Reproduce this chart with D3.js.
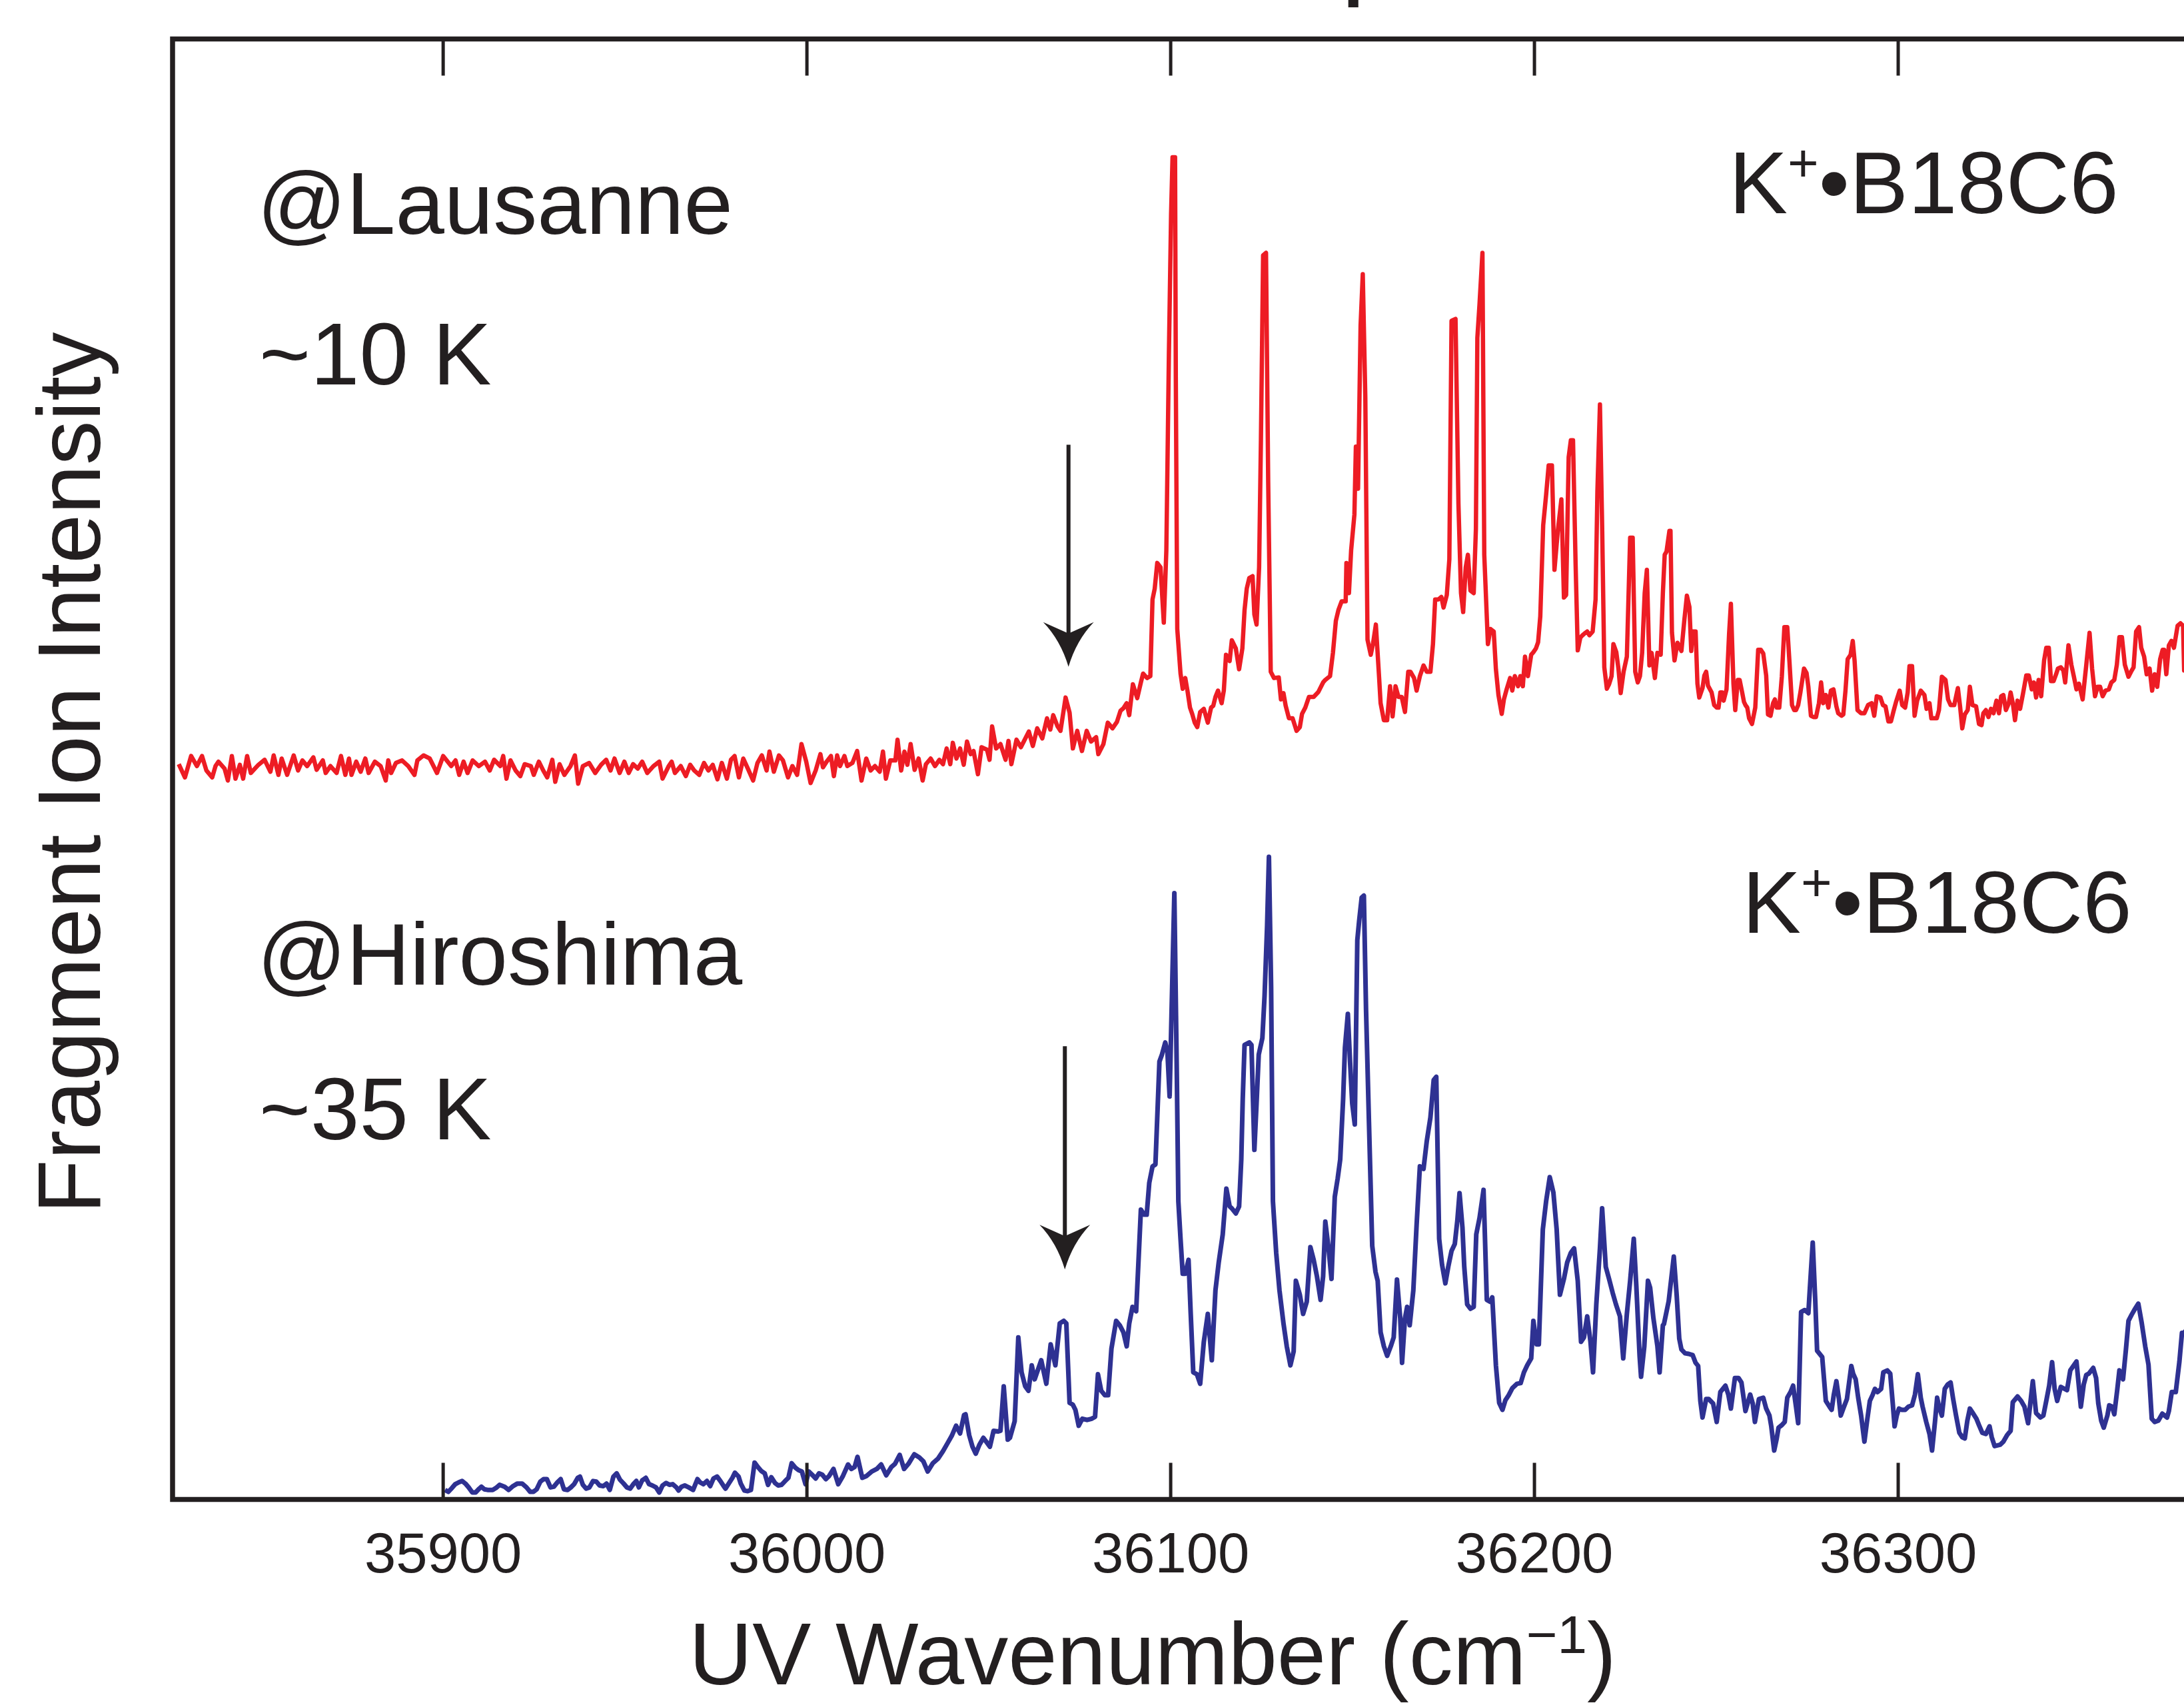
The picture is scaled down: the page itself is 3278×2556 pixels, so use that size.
<!DOCTYPE html>
<html>
<head>
<meta charset="utf-8">
<script src="https://cdnjs.cloudflare.com/ajax/libs/d3/7.8.5/d3.min.js"></script>
<style>
  body { margin: 0; background: #fff; }
  svg { display: block; }
  text { font-family: "Liberation Sans", Arial, Helvetica, sans-serif; fill: #231f20; }
</style>
</head>
<body>
<div class="canvas"></div>
<script>
// tick positions on the wavenumber axis
const xTicks = [35900, 36000, 36100, 36200, 36300];

// K+.B18C6 @Lausanne (~10 K), [wavenumber cm-1, relative intensity]
const lausanne = [
  [35827.4,3.5],[35829.1,1.4],[35830.8,4.8],[35832.4,3.2],[35833.8,4.8],[35835.0,2.5],[35836.6,1.4],[35837.5,3.2],
  [35838.3,3.9],[35840.0,2.8],[35840.9,0.9],[35842.0,4.8],[35843.0,1.2],[35844.2,3.4],[35845.1,1.2],[35846.2,4.8],
  [35847.2,2.1],[35849.3,3.4],[35851.0,4.2],[35852.6,2.3],[35853.5,4.9],[35854.8,1.8],[35855.7,4.4],[35857.2,1.8],
  [35859.0,4.9],[35860.2,2.5],[35861.4,4.1],[35862.7,3.2],[35864.4,4.6],[35865.3,2.6],[35867.0,4.1],[35867.8,2.1],
  [35869.1,3.2],[35870.8,2.1],[35872.0,4.8],[35873.2,1.8],[35874.2,4.4],[35874.9,1.8],[35876.2,3.9],[35877.4,2.3],
  [35878.7,4.4],[35879.6,2.1],[35881.3,3.9],[35882.9,3.2],[35884.3,0.9],[35885.0,4.1],[35885.8,2.1],[35887.1,3.7],
  [35888.8,4.1],[35890.5,3.2],[35892.2,1.8],[35893.0,4.1],[35894.7,4.9],[35896.4,4.4],[35898.4,2.1],[35900.1,4.8],
  [35902.3,3.2],[35903.5,4.1],[35904.5,1.8],[35905.7,3.9],[35906.8,2.1],[35908.2,4.1],[35909.9,3.2],[35911.6,3.9],
  [35912.9,2.5],[35914.1,4.2],[35915.8,3.2],[35916.6,4.8],[35917.5,1.2],[35918.6,4.1],[35920.0,2.5],[35921.3,1.6],
  [35922.5,3.5],[35924.2,3.2],[35925.0,1.8],[35926.4,3.9],[35927.6,2.5],[35928.7,1.4],[35930.1,4.2],[35930.9,0.7],
  [35932.1,3.5],[35933.4,1.8],[35935.1,3.2],[35936.3,4.9],[35937.2,0.4],[35938.5,3.2],[35940.2,3.7],[35941.9,2.1],
  [35943.5,3.4],[35944.9,4.2],[35946.1,2.5],[35947.2,4.4],[35948.6,2.1],[35949.9,3.9],[35951.1,2.1],[35952.3,3.5],
  [35953.6,2.8],[35954.8,3.9],[35956.2,2.1],[35957.9,3.2],[35959.5,3.9],[35960.4,1.2],[35962.1,3.2],[35962.9,3.9],
  [35963.8,2.1],[35965.4,3.2],[35966.8,1.6],[35968.0,3.4],[35969.1,2.5],[35970.5,1.8],[35971.8,3.7],[35973.0,2.5],
  [35974.2,3.4],[35975.5,1.1],[35976.7,3.7],[35978.1,1.2],[35979.2,4.2],[35980.2,4.8],[35981.4,1.4],[35982.6,4.4],
  [35984.0,2.6],[35985.3,0.9],[35986.5,3.7],[35987.7,4.9],[35989.0,2.5],[35989.8,5.5],[35991.0,2.3],[35992.4,4.9],
  [35993.5,4.1],[35994.9,1.4],[35996.1,3.2],[35997.4,1.8],[35998.6,6.7],[35999.9,3.9],[36001.1,0.5],[36002.5,2.5],
  [36003.8,5.1],[36004.5,3.0],[36005.5,3.9],[36006.7,4.8],[36007.5,1.6],[36008.4,4.9],[36009.2,3.2],[36010.4,4.8],
  [36011.2,3.2],[36012.6,3.7],[36013.9,5.6],[36015.1,0.9],[36016.4,4.4],[36017.6,2.5],[36018.8,3.2],[36020.1,2.3],
  [36021.0,5.5],[36021.8,1.2],[36023.0,4.1],[36024.4,4.1],[36025.0,7.4],[36026.0,2.5],[36026.9,5.5],[36027.7,3.4],
  [36028.6,6.7],[36029.7,2.6],[36030.8,4.4],[36031.9,0.9],[36032.8,3.5],[36034.1,4.4],[36035.3,3.2],[36036.5,4.2],
  [36037.5,3.5],[36038.5,6.0],[36039.5,3.5],[36040.2,6.9],[36041.2,4.4],[36042.2,6.0],[36043.2,3.4],[36044.1,7.1],
  [36045.1,5.1],[36045.9,5.6],[36047.1,1.9],[36048.1,6.2],[36049.6,5.8],[36050.3,4.2],[36051.0,9.5],[36052.1,6.0],
  [36053.3,6.7],[36054.7,4.2],[36055.5,7.2],[36056.3,3.5],[36057.7,7.4],[36058.9,6.2],[36059.7,7.1],[36061.1,8.7],
  [36062.2,6.4],[36063.4,9.2],[36064.8,7.6],[36066.1,10.8],[36067.0,9.0],[36067.8,11.3],[36069.0,9.5],[36069.8,8.8],
  [36071.2,14.1],[36072.3,11.7],[36073.2,6.0],[36074.4,8.8],[36075.7,5.6],[36077.0,8.8],[36078.2,7.1],[36079.6,7.8],
  [36080.2,5.1],[36081.6,6.7],[36082.8,10.1],[36084.1,9.2],[36085.3,10.2],[36086.3,12.0],[36087.1,12.4],[36088.0,13.2],
  [36088.7,11.3],[36089.7,16.2],[36090.9,14.0],[36091.9,16.5],[36092.5,17.9],[36093.6,17.2],[36094.5,17.5],[36095.1,29.7],
  [36095.7,31.4],[36096.4,35.5],[36097.3,34.8],[36098.2,26.0],[36098.9,37.5],[36099.6,68.6],[36100.2,90.9],[36100.6,100],
  [36101.3,100],[36101.5,65.2],[36101.9,25.0],[36102.8,17.9],[36103.4,15.5],[36104.1,17.2],[36104.7,15.2],[36105.4,12.5],
  [36106.0,11.5],[36106.7,10.1],[36107.4,9.4],[36108.2,11.8],[36109.2,12.3],[36110.3,10.1],[36111.2,12.5],[36111.8,12.8],
  [36112.4,14.2],[36113.1,15.2],[36114.1,13.2],[36114.7,15.2],[36115.3,20.9],[36116.3,19.9],[36116.9,23.2],[36118.0,21.9],
  [36118.9,18.6],[36119.8,21.9],[36120.4,28.0],[36121.0,31.4],[36121.7,33.1],[36122.6,33.4],[36123.1,27.3],[36123.7,25.7],
  [36124.4,34.8],[36124.9,55.0],[36125.5,84.4],[36126.3,84.8],[36126.9,48.3],[36127.6,18.2],[36128.5,17.2],[36129.8,17.3],
  [36130.4,13.8],[36131.1,14.8],[36131.7,12.8],[36132.6,10.8],[36133.6,10.8],[36134.7,8.8],[36135.6,9.4],[36136.2,11.5],
  [36137.1,12.5],[36138.1,14.2],[36139.4,14.2],[36140.7,15.0],[36142.0,16.5],[36142.6,16.9],[36143.9,17.5],[36144.7,21.2],
  [36145.5,26.3],[36146.2,28.0],[36147.1,29.4],[36148.2,29.4],[36148.4,35.5],[36149.1,30.7],[36149.7,37.5],[36150.6,43.2],
  [36151.0,54.0],[36151.6,47.3],[36152.3,73.3],[36152.9,81.4],[36153.6,61.8],[36154.2,23.3],[36155.1,20.9],[36155.7,22.6],
  [36156.5,25.7],[36157.4,17.2],[36157.8,13.2],[36158.7,10.5],[36159.6,10.5],[36160.4,15.9],[36161.1,11.1],[36161.9,15.9],
  [36162.7,14.2],[36163.6,14.2],[36164.5,11.8],[36165.4,18.2],[36166.0,18.2],[36167.0,17.2],[36167.7,15.2],[36168.6,17.5],
  [36169.6,19.2],[36170.5,18.2],[36171.5,18.2],[36172.2,22.6],[36172.8,29.7],[36173.7,29.7],[36174.5,30.1],[36175.1,28.4],
  [36176.0,30.4],[36176.7,36.1],[36177.3,74.0],[36178.4,74.3],[36179.2,44.9],[36179.9,30.7],[36180.5,27.7],[36181.2,34.8],
  [36181.8,36.8],[36182.5,31.1],[36183.4,30.7],[36184.0,40.9],[36184.4,71.3],[36185.0,76.7],[36185.8,84.8],[36186.3,36.8],
  [36187.3,22.6],[36188.0,25.0],[36188.9,24.6],[36189.5,18.6],[36190.2,14.5],[36191.1,11.5],[36191.7,13.8],[36192.5,15.5],
  [36193.4,17.2],[36194.0,15.2],[36194.7,17.5],[36195.6,15.9],[36196.2,17.5],[36196.9,15.9],[36197.5,20.6],[36198.3,17.5],
  [36199.2,20.9],[36199.8,21.3],[36200.5,21.9],[36201.1,22.9],[36201.7,27.0],[36202.5,41.5],[36203.3,46.3],[36204.0,51.0],
  [36204.9,51.0],[36205.6,34.4],[36206.5,40.5],[36207.5,45.6],[36208.2,30.0],[36208.8,30.4],[36209.5,52.3],[36210.1,55.0],
  [36210.7,55.0],[36211.4,35.5],[36212.0,21.6],[36212.7,23.6],[36213.3,24.0],[36213.9,24.3],[36214.6,24.6],[36215.2,24.0],
  [36216.1,24.6],[36216.9,29.7],[36217.4,46.9],[36218.1,60.7],[36218.7,41.5],[36219.3,18.9],[36220.0,15.5],[36220.6,16.2],
  [36221.3,17.5],[36221.8,22.6],[36222.6,21.3],[36223.2,18.6],[36223.8,14.8],[36224.6,18.2],[36225.5,20.6],[36226.4,39.5],
  [36227.1,39.5],[36227.8,18.2],[36228.5,16.5],[36229.1,17.5],[36229.7,21.2],[36230.4,30.7],[36231.0,34.4],[36231.7,19.2],
  [36232.3,21.2],[36233.2,17.2],[36233.9,21.2],[36234.8,20.9],[36235.4,30.7],[36235.9,36.8],[36236.4,37.3],[36237.2,40.6],
  [36237.5,40.6],[36237.9,24.4],[36238.6,20.0],[36239.4,22.8],[36240.5,21.5],[36241.3,26.4],[36242.0,30.3],[36242.7,28.5],
  [36243.2,21.5],[36243.6,24.6],[36244.4,24.6],[36244.9,16.3],[36245.4,14.1],[36246.3,15.6],[36246.8,17.6],[36247.3,18.2],
  [36247.8,16.0],[36248.8,14.9],[36249.5,12.9],[36250.2,12.5],[36250.7,12.5],[36251.2,14.9],[36251.7,14.9],[36252.1,13.6],
  [36252.9,15.4],[36253.6,24.2],[36254.1,29.0],[36254.8,16.3],[36255.3,12.1],[36256.0,16.9],[36256.5,16.9],[36257.2,14.9],
  [36257.7,13.4],[36258.1,12.9],[36258.6,12.5],[36259.1,10.8],[36259.9,9.9],[36260.8,12.5],[36261.6,21.7],[36262.3,21.7],
  [36263.0,21.1],[36263.8,17.6],[36264.3,11.4],[36265.0,11.2],[36265.7,13.2],[36266.2,13.8],[36266.7,12.5],[36267.4,12.5],
  [36268.1,17.4],[36268.8,25.3],[36269.6,25.3],[36270.2,19.8],[36270.9,12.9],[36271.5,12.1],[36272.0,12.1],[36272.6,12.9],
  [36273.2,14.9],[36274.2,18.7],[36274.9,18.0],[36275.4,15.8],[36276.1,11.2],[36276.8,11.0],[36277.5,11.0],[36278.3,13.2],
  [36278.9,16.5],[36279.5,13.2],[36280.2,14.5],[36280.9,12.5],[36281.6,15.2],[36282.3,15.4],[36283.1,12.7],[36283.6,11.6],
  [36284.5,11.2],[36285.0,11.4],[36285.6,15.2],[36286.2,20.2],[36287.0,20.9],[36287.6,23.1],[36288.1,20.0],[36288.9,12.1],
  [36289.9,11.6],[36290.8,11.6],[36291.8,12.9],[36292.8,13.2],[36293.5,11.2],[36294.2,14.3],[36295.2,14.1],[36295.9,12.9],
  [36296.6,12.7],[36297.4,10.3],[36298.1,10.3],[36298.8,11.9],[36299.5,13.4],[36300.5,15.2],[36301.2,12.9],[36302.0,12.5],
  [36302.7,14.9],[36303.2,19.1],[36303.9,19.1],[36304.6,11.2],[36305.3,13.6],[36306.3,15.2],[36307.3,14.5],[36307.9,12.3],
  [36308.7,13.2],[36309.2,10.8],[36310.0,10.8],[36310.7,10.8],[36311.3,12.1],[36312.1,17.4],[36313.1,16.9],[36313.8,13.8],
  [36314.5,12.9],[36315.5,12.9],[36316.5,15.6],[36317.1,12.7],[36317.7,9.2],[36318.4,11.4],[36319.2,12.1],[36319.8,15.8],
  [36320.5,12.9],[36321.5,12.7],[36322.3,9.9],[36323.0,9.7],[36323.5,11.6],[36324.2,12.1],[36324.9,11.0],[36325.6,12.3],
  [36326.3,11.6],[36327.1,13.6],[36327.8,11.6],[36328.4,14.3],[36329.0,14.5],[36329.7,12.1],[36330.5,13.2],[36331.0,14.9],
  [36331.6,13.2],[36332.2,10.5],[36332.9,13.6],[36333.6,12.3],[36334.4,14.7],[36335.3,17.6],[36336.0,17.6],[36336.8,15.4],
  [36337.4,16.5],[36338.0,14.1],[36338.7,16.9],[36339.4,14.3],[36340.2,20.0],[36340.8,22.0],[36341.5,22.0],[36342.1,16.7],
  [36342.8,16.7],[36343.5,17.8],[36344.0,18.7],[36344.8,18.9],[36345.5,18.4],[36346.0,16.5],[36346.9,22.4],[36347.7,19.3],
  [36348.4,17.4],[36349.1,15.4],[36349.8,16.3],[36350.8,13.8],[36351.8,19.3],[36352.7,24.4],[36353.4,18.7],[36354.2,14.3],
  [36354.9,15.8],[36355.6,15.8],[36356.3,14.3],[36357.1,15.2],[36358.0,15.4],[36358.7,16.5],[36359.5,16.9],[36360.2,19.3],
  [36360.9,23.7],[36361.6,23.7],[36362.4,19.3],[36363.4,17.4],[36364.1,18.2],[36364.8,18.9],[36365.5,24.6],[36366.3,25.3],
  [36366.9,22.0],[36367.7,20.6],[36368.4,17.8],[36369.2,18.7],[36369.9,15.2],[36370.6,17.8],[36371.3,15.8],[36372.1,20.2],
  [36372.8,21.7],[36373.2,21.7],[36373.8,17.8],[36374.5,22.4],[36375.2,23.1],[36375.9,22.0],[36376.9,25.5],[36377.7,25.9],
  [36378.4,25.5],[36378.7,18.4],[36380.0,18.4]
];

// K+.B18C6 @Hiroshima (~35 K), [wavenumber cm-1, relative intensity]
const hiroshima = [
  [35900.6,0.4],[35901.5,0.1],[35902.5,0.7],[35903.4,1.3],[35904.4,1.6],[35905.3,1.8],[35906.2,1.4],[35907.1,0.8],
  [35908.1,0.0],[35909.0,0.0],[35910.0,0.6],[35910.6,0.9],[35911.4,0.5],[35912.3,0.4],[35913.7,0.4],[35914.6,0.7],
  [35915.6,1.2],[35917.0,0.9],[35918.1,0.4],[35919.3,1.0],[35920.5,1.4],[35921.8,1.4],[35923.0,0.8],[35924.0,0.1],
  [35924.9,0.1],[35925.8,0.5],[35926.8,1.7],[35927.7,2.1],[35928.6,2.1],[35929.6,0.8],[35930.5,0.9],[35931.5,1.6],
  [35932.4,2.1],[35933.3,0.5],[35934.3,0.4],[35935.2,0.8],[35936.1,1.3],[35937.1,2.3],[35937.7,2.5],[35938.5,1.2],
  [35939.4,0.6],[35940.3,0.8],[35941.3,1.8],[35942.2,1.7],[35943.1,1.1],[35944.1,1.0],[35945.0,1.4],[35945.9,0.4],
  [35946.9,2.5],[35947.8,3.0],[35948.7,2.0],[35949.7,1.4],[35950.6,0.8],[35951.5,0.6],[35952.5,1.4],[35953.2,1.8],
  [35953.9,0.8],[35954.8,1.9],[35955.8,2.3],[35956.7,1.3],[35957.6,1.1],[35958.6,0.8],[35959.5,0.0],[35960.4,1.1],
  [35961.4,1.5],[35962.3,1.2],[35963.2,1.3],[35964.2,0.8],[35964.8,0.3],[35965.6,0.9],[35966.5,1.1],[35967.6,0.8],
  [35968.8,0.4],[35970.0,2.1],[35970.7,1.6],[35971.6,1.3],[35972.6,1.8],[35973.5,1.0],[35974.4,2.2],[35975.4,2.5],
  [35976.3,1.8],[35977.2,1.0],[35977.7,0.6],[35978.6,1.4],[35979.6,2.3],[35980.3,3.1],[35981.3,2.5],[35981.9,1.4],
  [35982.9,0.3],[35983.8,0.2],[35984.7,0.4],[35985.7,4.7],[35986.6,4.0],[35987.5,3.4],[35988.5,3.0],[35989.4,1.2],
  [35990.3,2.4],[35991.3,1.5],[35992.2,1.1],[35993.1,1.2],[35994.1,1.8],[35995.0,2.3],[35995.9,4.6],[35996.9,3.9],
  [35997.8,3.5],[35998.7,3.3],[35999.7,1.3],[36000.6,3.3],[36001.5,2.8],[36002.5,2.2],[36003.4,3.0],[36004.3,2.8],
  [36005.3,2.1],[36006.2,2.6],[36007.4,3.7],[36008.7,1.3],[36010.0,2.6],[36011.4,4.4],[36012.3,3.7],[36013.2,4.0],
  [36014.0,5.6],[36015.3,2.3],[36016.5,2.6],[36017.9,3.3],[36019.3,3.7],[36020.5,4.4],[36021.9,2.7],[36023.3,4.0],
  [36024.3,4.5],[36025.6,5.9],[36026.8,3.7],[36028.0,4.5],[36029.6,6.0],[36031.0,5.5],[36032.1,4.9],[36033.3,3.3],
  [36034.7,4.6],[36036.1,5.3],[36037.5,6.5],[36038.9,7.9],[36039.9,8.9],[36041.1,10.5],[36042.2,9.3],[36043.3,12.2],
  [36043.7,12.3],[36044.7,9.0],[36045.6,7.2],[36046.5,6.1],[36047.5,7.5],[36048.6,8.6],[36049.5,7.9],[36050.4,7.2],
  [36051.4,9.7],[36052.7,9.6],[36053.3,9.7],[36054.2,16.7],[36055.3,8.3],[36055.9,8.6],[36057.2,11.2],[36058.2,24.4],
  [36059.1,18.9],[36060.1,16.7],[36061.0,16.0],[36061.9,20.0],[36062.7,17.8],[36063.6,19.3],[36064.5,20.8],[36065.9,17.1],
  [36067.1,23.3],[36068.4,20.0],[36069.6,26.6],[36070.7,27.0],[36071.4,26.6],[36072.3,14.1],[36073.2,13.8],[36073.9,13.0],
  [36074.8,10.5],[36075.8,11.6],[36077.1,11.4],[36078.4,11.6],[36079.3,11.9],[36080.1,18.6],[36081.0,16.0],[36082.0,15.3],
  [36082.9,15.3],[36083.8,22.6],[36085.1,27.0],[36086.1,26.3],[36087.1,25.2],[36088.0,23.0],[36088.7,26.6],[36089.6,29.2],
  [36090.6,28.5],[36091.9,44.5],[36092.8,43.7],[36093.5,43.7],[36094.2,48.7],[36095.1,51.3],[36095.9,51.6],[36097.0,67.8],
  [36097.7,68.9],[36098.6,70.8],[36099.2,69.3],[36099.8,62.3],[36100.5,79.6],[36101.1,94.3],[36101.8,64.9],[36102.2,45.8],
  [36102.8,39.9],[36103.4,34.4],[36104.1,34.4],[36105.0,36.6],[36105.6,28.1],[36106.3,18.9],[36107.3,18.6],[36108.2,17.1],
  [36109.2,23.7],[36110.3,28.1],[36111.4,20.8],[36112.4,31.8],[36113.3,36.2],[36114.4,40.6],[36115.4,47.8],[36116.3,45.0],
  [36116.9,44.7],[36118.0,43.9],[36118.9,45.0],[36119.5,52.4],[36119.9,61.9],[36120.4,70.4],[36121.7,70.8],[36122.3,70.4],
  [36123.1,53.9],[36123.7,61.2],[36124.3,68.9],[36125.3,71.5],[36125.9,78.1],[36126.6,89.1],[36127.1,100],[36127.7,79.6],
  [36128.2,45.8],[36129.1,37.7],[36130.0,31.8],[36131.1,26.6],[36132.0,23.0],[36133.0,20.0],[36133.9,22.2],[36134.5,33.3],
  [36135.6,31.1],[36136.5,28.1],[36137.5,30.0],[36138.5,38.6],[36139.4,36.6],[36140.3,34.0],[36141.3,30.3],[36142.0,34.0],
  [36142.6,42.6],[36143.5,38.4],[36144.3,33.6],[36145.2,46.5],[36146.0,49.4],[36146.7,52.4],[36147.5,61.9],[36148.0,70.0],
  [36148.8,75.3],[36149.4,67.8],[36150.0,61.2],[36150.7,57.9],[36151.4,86.9],[36151.9,89.9],[36152.6,93.6],[36153.2,93.9],
  [36153.8,75.9],[36154.6,58.3],[36155.5,38.8],[36156.4,34.7],[36157.0,33.3],[36157.8,25.2],[36158.7,23.0],[36159.6,21.5],
  [36160.6,23.0],[36161.4,24.4],[36162.3,33.5],[36163.2,27.4],[36163.7,20.4],[36164.5,27.4],[36165.1,29.2],[36165.8,26.3],
  [36166.8,31.8],[36167.7,42.1],[36168.6,51.3],[36169.6,50.9],[36170.5,55.3],[36171.5,59.0],[36172.4,64.9],[36173.1,65.4],
  [36173.9,39.9],[36174.7,35.8],[36175.6,32.9],[36176.4,35.5],[36177.3,38.0],[36178.2,39.1],[36178.9,42.8],[36179.5,47.1],
  [36180.3,41.7],[36180.8,35.5],[36181.6,29.6],[36182.5,28.9],[36183.4,29.2],[36184.1,40.6],[36185.0,43.2],[36186.1,47.6],
  [36187.0,30.3],[36187.9,30.0],[36188.5,30.7],[36189.5,20.0],[36190.4,14.1],[36191.3,13.0],[36192.1,14.5],[36193.0,15.3],
  [36194.0,16.4],[36195.3,17.1],[36196.3,17.2],[36197.2,18.9],[36198.1,20.0],[36199.2,21.1],[36199.8,27.0],[36200.7,23.3],
  [36201.3,23.3],[36202.4,41.4],[36203.3,45.8],[36204.3,49.6],[36205.3,47.2],[36206.2,41.4],[36207.1,31.1],[36208.2,33.6],
  [36209.1,36.2],[36210.1,37.7],[36211.0,38.4],[36212.0,33.3],[36212.9,23.7],[36213.7,24.4],[36214.6,27.7],[36215.5,23.7],
  [36216.2,18.9],[36217.1,29.6],[36218.1,38.4],[36218.7,44.7],[36219.7,35.5],[36220.6,33.6],[36221.6,31.4],[36222.5,29.6],
  [36223.6,27.7],[36224.5,21.1],[36225.5,28.1],[36226.4,33.3],[36227.4,39.9],[36228.1,32.5],[36229.0,21.5],[36229.4,18.2],
  [36230.3,23.0],[36231.3,33.3],[36231.9,32.2],[36232.8,27.4],[36233.9,23.0],[36234.5,18.9],[36235.4,26.3],[36235.7,26.5],
  [36237.0,30.1],[36238.4,37.1],[36239.2,31.0],[36239.9,24.2],[36240.5,22.5],[36241.5,21.9],[36242.5,21.8],[36243.6,21.6],
  [36244.4,20.4],[36245.1,19.9],[36245.7,14.4],[36246.3,11.8],[36247.3,14.7],[36248.0,14.7],[36249.2,14.0],[36250.2,11.1],
  [36251.2,15.8],[36251.9,16.3],[36252.6,16.8],[36253.4,15.4],[36254.1,13.2],[36255.2,18.0],[36256.2,18.0],[36257.0,17.3],
  [36258.1,12.8],[36259.4,15.4],[36260.1,14.0],[36260.7,11.1],[36261.8,14.7],[36263.0,14.9],[36263.8,13.2],[36264.7,12.1],
  [36265.2,10.4],[36266.0,6.6],[36266.7,8.5],[36267.2,10.2],[36268.1,10.6],[36268.9,11.1],[36269.6,14.9],[36270.5,15.8],
  [36271.2,16.8],[36272.0,13.5],[36272.6,10.9],[36273.4,28.4],[36274.4,28.7],[36275.4,28.2],[36275.8,32.0],[36276.6,39.3],
  [36277.3,30.1],[36277.8,22.3],[36278.5,21.8],[36279.2,21.3],[36280.2,14.4],[36281.2,13.5],[36281.8,13.0],[36282.4,15.4],
  [36283.1,17.5],[36283.8,14.7],[36284.3,12.1],[36285.0,13.2],[36286.0,14.7],[36286.6,17.3],[36287.2,19.9],[36287.7,18.7],
  [36288.4,17.8],[36289.1,14.9],[36289.9,12.1],[36290.8,8.0],[36291.5,11.1],[36292.3,14.4],[36293.1,15.4],[36293.7,16.3],
  [36294.4,15.8],[36295.4,16.3],[36296.0,18.9],[36297.1,19.2],[36297.9,18.7],[36298.6,14.0],[36299.1,10.4],[36299.7,12.1],
  [36300.3,13.2],[36301.0,13.0],[36302.0,13.0],[36302.9,13.5],[36303.9,13.7],[36304.7,15.4],[36305.5,18.6],[36306.3,14.9],
  [36306.8,13.5],[36307.8,11.1],[36308.7,9.2],[36309.4,6.6],[36310.2,11.1],[36310.8,14.9],[36311.3,13.5],[36312.1,12.1],
  [36312.9,16.3],[36313.7,17.0],[36314.5,17.3],[36315.2,14.7],[36316.0,12.1],[36316.9,9.4],[36317.7,8.7],[36318.4,8.5],
  [36319.1,11.3],[36319.8,13.2],[36320.6,12.5],[36321.6,11.6],[36322.3,10.6],[36323.2,9.4],[36324.2,9.2],[36325.2,10.4],
  [36325.8,8.7],[36326.6,7.3],[36328.1,7.5],[36329.0,8.0],[36330.0,9.0],[36331.0,9.7],[36331.6,14.2],[36332.9,15.1],
  [36333.9,14.4],[36334.8,13.5],[36335.8,10.9],[36337.1,17.5],[36338.0,12.5],[36339.2,11.8],[36340.0,12.1],[36340.9,14.7],
  [36341.6,16.8],[36342.4,20.5],[36343.1,16.3],[36343.8,14.4],[36344.8,16.6],[36345.8,16.3],[36346.5,16.1],[36347.4,19.2],
  [36349.1,20.6],[36350.3,13.5],[36351.1,17.0],[36351.8,18.5],[36352.5,18.7],[36353.7,19.6],[36354.5,18.0],[36355.1,14.0],
  [36355.9,11.3],[36356.6,10.2],[36357.6,12.1],[36358.1,13.7],[36358.9,13.5],[36359.5,12.3],[36360.3,16.1],[36360.9,19.2],
  [36361.9,17.8],[36362.7,22.5],[36363.4,27.0],[36364.3,28.0],[36365.0,28.7],[36366.1,29.7],[36367.0,26.8],[36368.0,23.0],
  [36368.9,20.1],[36369.8,11.6],[36370.6,11.1],[36371.6,11.3],[36372.7,12.4],[36374.0,11.8],[36374.5,12.8],[36375.3,15.8],
  [36376.4,15.8],[36377.4,20.6],[36378.1,25.1],[36378.6,25.1],[36380.0,26.0]
];

// arrows marking the band origin: [wavenumber, tail intensity, tip intensity]
const lausanneArrow = [36072, 54.3, 19.0];
const hiroshimaArrow = [36071, 70.2, 35.1];

const titleText = 'UV spectra';

const dims = { width: 3278, height: 2556 };
const frame = { left: 259, right: 3394.5, top: 58.5, bottom: 2250.5 };
const ink = '#231f20';

const svg = d3.select('.canvas').append('svg')
  .attr('width', dims.width)
  .attr('height', dims.height);

const x = d3.scaleLinear().domain([35825.7, 36400]).range([frame.left, frame.right]);
// the two traces are offset vertically, each with its own intensity scale
const yTop = d3.scaleLinear().domain([0, 100]).range([1180, 236]);
const yBot = d3.scaleLinear().domain([0, 100]).range([2240, 1286]);

// title sits above the picture, only the descender reaches in
const title = svg.append('text')
  .attr('y', -12)
  .attr('font-size', 110)
  .attr('font-weight', 'bold')
  .text(titleText);
const pStart = title.node().getStartPositionOfChar(titleText.indexOf('p')).x;
title.attr('x', 2016 - pStart);

// traces
const lineTop = d3.line().x(d => x(d[0])).y(d => yTop(d[1]));
const lineBot = d3.line().x(d => x(d[0])).y(d => yBot(d[1]));

svg.append('path')
  .datum(lausanne)
  .attr('d', lineTop)
  .attr('fill', 'none')
  .attr('stroke', '#ed1c24')
  .attr('stroke-width', 6.5)
  .attr('stroke-linejoin', 'round');

svg.append('path')
  .datum(hiroshima)
  .attr('d', lineBot)
  .attr('fill', 'none')
  .attr('stroke', '#2e3192')
  .attr('stroke-width', 7)
  .attr('stroke-linejoin', 'round');

// axes, ticks pointing inward
const bottomAxis = d3.axisBottom(x)
  .tickValues(xTicks)
  .tickSizeInner(-55)
  .tickSizeOuter(0)
  .tickPadding(49)
  .tickFormat(d3.format('d'));

const topAxis = d3.axisTop(x)
  .tickValues(xTicks)
  .tickSizeInner(-55)
  .tickSizeOuter(0)
  .tickFormat('');

const gBottom = svg.append('g')
  .attr('transform', `translate(0, ${frame.bottom})`)
  .call(bottomAxis);
const gTop = svg.append('g')
  .attr('transform', `translate(0, ${frame.top})`)
  .call(topAxis);

[gBottom, gTop].forEach(g => {
  g.attr('color', ink);
  g.select('.domain').remove();
  g.selectAll('.tick line').attr('stroke-width', 5);
});
gBottom.selectAll('.tick text')
  .attr('font-size', 85)
  .attr('font-family', '"Liberation Sans", Arial, Helvetica, sans-serif');

// frame
svg.append('rect')
  .attr('x', frame.left)
  .attr('y', frame.top)
  .attr('width', frame.right - frame.left)
  .attr('height', frame.bottom - frame.top)
  .attr('fill', 'none')
  .attr('stroke', ink)
  .attr('stroke-width', 7.5);

// arrows
const drawArrow = (a, y) => {
  const ax = x(a[0]);
  const tail = y(a[1]);
  const tip = y(a[2]);
  svg.append('line')
    .attr('x1', ax).attr('x2', ax)
    .attr('y1', tail).attr('y2', tip - 40)
    .attr('stroke', ink)
    .attr('stroke-width', 6);
  const path = d3.path();
  path.moveTo(ax, tip);
  path.quadraticCurveTo(ax - 12, tip - 40, ax - 38, tip - 67);
  path.lineTo(ax, tip - 50);
  path.lineTo(ax + 38, tip - 67);
  path.quadraticCurveTo(ax + 12, tip - 40, ax, tip);
  path.closePath();
  svg.append('path').attr('d', path.toString()).attr('fill', ink);
};
drawArrow(lausanneArrow, yTop);
drawArrow(hiroshimaArrow, yBot);

// labels
const label = (txt, lx, ly) => svg.append('text')
  .attr('x', lx).attr('y', ly)
  .attr('font-size', 132)
  .text(txt);

label('@Lausanne', 386, 351);
label('~10 K', 389, 577);
label('@Hiroshima', 386, 1478);
label('~35 K', 389, 1710);

const ionLabel = (lx, ly) => {
  const t = svg.append('text').attr('x', lx).attr('y', ly).attr('font-size', 132);
  t.append('tspan').text('K');
  t.append('tspan').attr('font-size', 80).attr('dy', -48).text('+');
  t.append('tspan').attr('dy', 48).text('\u2022B18C6');
};
ionLabel(2595, 320);
ionLabel(2615, 1400);

// axis titles
const xTitle = svg.append('text')
  .attr('x', 1730).attr('y', 2528)
  .attr('text-anchor', 'middle')
  .attr('font-size', 132);
xTitle.append('tspan').text('UV Wavenumber (cm');
xTitle.append('tspan').attr('font-size', 80).attr('dy', -47).text('\u22121');
xTitle.append('tspan').attr('dy', 47).text(')');

svg.append('text')
  .attr('transform', 'translate(150, 1160) rotate(-90)')
  .attr('text-anchor', 'middle')
  .attr('font-size', 133)
  .text('Fragment Ion Intensity');
</script>
</body>
</html>
